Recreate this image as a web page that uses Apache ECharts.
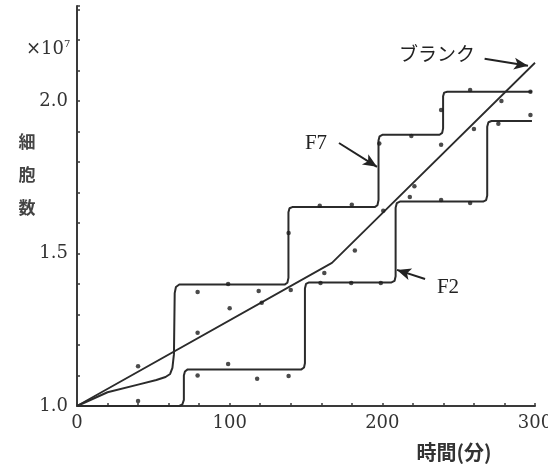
<!DOCTYPE html>
<html>
<head>
<meta charset="utf-8">
<script src="https://cdn.jsdelivr.net/npm/echarts@6/dist/echarts.min.js"></script>
<style>html,body{margin:0;padding:0;background:#fff;overflow:hidden}#c{width:548px;height:467px}</style>
</head>
<body>
<div id="c"></div>
<script>
// x: time (min), y: cell count (x10^7)
const xTickLabels = [0, 100, 200, 300];
const yTickLabels = [1.0, 1.5, 2.0];

const blankX = [0, 167, 300];
const blankY = [1.0, 1.469, 2.125];

const f7X = [0, 20, 40, 52, 58, 61, 62.5, 63.5, 64, 64.8, 67, 136, 137.8, 138.5, 138.5, 139.2, 141, 195, 196.8, 197.5, 197.5, 198.2, 200, 237.5, 239.2, 239.8, 239.8, 240.5, 242.5, 298];
const f7Y = [1.0, 1.045, 1.07, 1.085, 1.095, 1.105, 1.125, 1.17, 1.37, 1.39, 1.398, 1.398, 1.404, 1.42, 1.635, 1.648, 1.652, 1.652, 1.658, 1.675, 1.87, 1.884, 1.889, 1.889, 1.895, 1.91, 2.015, 2.027, 2.03, 2.03];

const f2X = [0, 67, 69, 70, 70, 70.7, 72.5, 147, 148.7, 149.3, 149.3, 150, 152, 206, 208, 208.7, 208.7, 209.5, 211.5, 266, 268, 268.7, 268.7, 269.5, 271.5, 298];
const f2Y = [1.0, 1.0, 1.005, 1.02, 1.10, 1.113, 1.12, 1.12, 1.126, 1.14, 1.385, 1.40, 1.405, 1.405, 1.41, 1.425, 1.65, 1.665, 1.67, 1.67, 1.675, 1.69, 1.915, 1.93, 1.934, 1.934];

const dotX = [40, 40, 79, 79, 79, 99, 100, 99, 119, 121, 118, 138.6, 138.6, 140, 159, 180, 219, 198, 221, 218, 200.6, 182, 162, 159.5, 179.6, 199, 257.5, 297, 238.5, 278, 260, 276, 297, 238.5, 238.5, 257.5];
const dotY = [1.016, 1.13, 1.374, 1.24, 1.10, 1.40, 1.32, 1.138, 1.377, 1.338, 1.089, 1.098, 1.567, 1.38, 1.656, 1.66, 1.885, 1.86, 1.72, 1.685, 1.64, 1.51, 1.436, 1.403, 1.403, 1.403, 2.036, 2.03, 1.97, 2.0, 1.908, 1.925, 1.954, 1.856, 1.675, 1.665];

// annotation arrows [fromX, fromY, toX, toY] in data units
const arrowBlank = [267, 2.138, 295.4, 2.115];
const arrowF7 = [171.6, 1.862, 196.5, 1.784];
const arrowF2 = [228, 1.416, 209.6, 1.446];

const zip = (a, b) => a.map((v, i) => [v, b[i]]);
const lineColor = '#2b2b2b';
const serif = '"DejaVu Serif", "Liberation Serif", serif';
const cjk = '"Noto Sans CJK JP", sans-serif';

const chart = echarts.init(document.getElementById('c'), null, {renderer: 'canvas'});
const arrowSeg = a => [{coord: [a[0], a[1]]}, {coord: [a[2], a[3]]}];

chart.setOption({
  animation: false,
  backgroundColor: '#ffffff',
  grid: {left: 77, right: 13, top: 6, bottom: 61, containLabel: false, outerBoundsMode: 'none'},
  xAxis: {
    type: 'value', min: 0, max: 300, interval: 20,
    axisLine: {show: true, lineStyle: {color: '#3a3a3a', width: 2}},
    axisTick: {show: true, inside: true, length: 3, lineStyle: {color: '#3a3a3a', width: 1.5}},
    splitLine: {show: false},
    axisLabel: {
      margin: 8, color: '#333', fontFamily: serif, fontSize: 18, hideOverlap: false,
      formatter: v => xTickLabels.indexOf(Math.round(v)) >= 0 && Math.abs(v - Math.round(v)) < 1e-6 ? String(Math.round(v)) : ''
    }
  },
  yAxis: {
    type: 'value', min: 1.0, max: 2.311, interval: 0.1,
    axisLine: {show: true, lineStyle: {color: '#3a3a3a', width: 2}},
    axisTick: {show: true, inside: true, length: 3, lineStyle: {color: '#3a3a3a', width: 1.5}},
    splitLine: {show: false},
    axisLabel: {
      margin: 9, color: '#333', fontFamily: serif, fontSize: 18,
      formatter: v => {
        for (const t of yTickLabels) if (Math.abs(v - t) < 1e-6) return t.toFixed(1);
        return '';
      }
    }
  },
  series: [
    {
      name: 'ブランク', type: 'line', data: zip(blankX, blankY), symbol: 'none',
      lineStyle: {color: lineColor, width: 1.8}, z: 3,
      markLine: {
        silent: true, symbol: ['none', 'arrow'], symbolSize: [9, 14],
        label: {show: false},
        lineStyle: {color: '#222', width: 2, type: 'solid'},
        data: [arrowSeg(arrowBlank), arrowSeg(arrowF7), arrowSeg(arrowF2)]
      }
    },
    {name: 'F7', type: 'line', data: zip(f7X, f7Y), symbol: 'none', lineStyle: {color: lineColor, width: 2}, z: 3},
    {name: 'F2', type: 'line', data: zip(f2X, f2Y), symbol: 'none', lineStyle: {color: lineColor, width: 2}, z: 3},
    {name: 'dots', type: 'scatter', data: zip(dotX, dotY), symbol: 'circle', symbolSize: 4.5, itemStyle: {color: '#1e1e1e'}, z: 4}
  ],
  graphic: [
    {type: 'text', x: 437, y: 54, style: {text: 'ブランク', fontFamily: cjk, fontSize: 19, fill: '#222', align: 'center', verticalAlign: 'middle'}},
    {type: 'text', x: 316, y: 143, style: {text: 'F7', fontFamily: '"Liberation Serif", serif', fontSize: 21, fill: '#222', align: 'center', verticalAlign: 'middle'}},
    {type: 'text', x: 448, y: 287, style: {text: 'F2', fontFamily: '"Liberation Serif", serif', fontSize: 21, fill: '#222', align: 'center', verticalAlign: 'middle'}},
    {type: 'text', x: 454, y: 452, style: {text: '時間(分)', fontFamily: cjk, fontWeight: 'bold', fontSize: 20, fill: '#333', align: 'center', verticalAlign: 'middle'}},
    {type: 'text', x: 27, y: 175, style: {text: '細\n胞\n数', fontFamily: cjk, fontWeight: 'bold', fontSize: 17, lineHeight: 33, fill: '#444', align: 'center', verticalAlign: 'middle'}},
    {type: 'text', x: 26, y: 49, style: {
      text: '{a|×10}{b|7}', verticalAlign: 'middle', align: 'left',
      rich: {a: {fontFamily: serif, fontSize: 18, fill: '#333'}, b: {fontFamily: serif, fontSize: 10, fill: '#333', verticalAlign: 'top', padding: [0, 0, 9, 0]}}
    }}
  ]
});
</script>
</body>
</html>
